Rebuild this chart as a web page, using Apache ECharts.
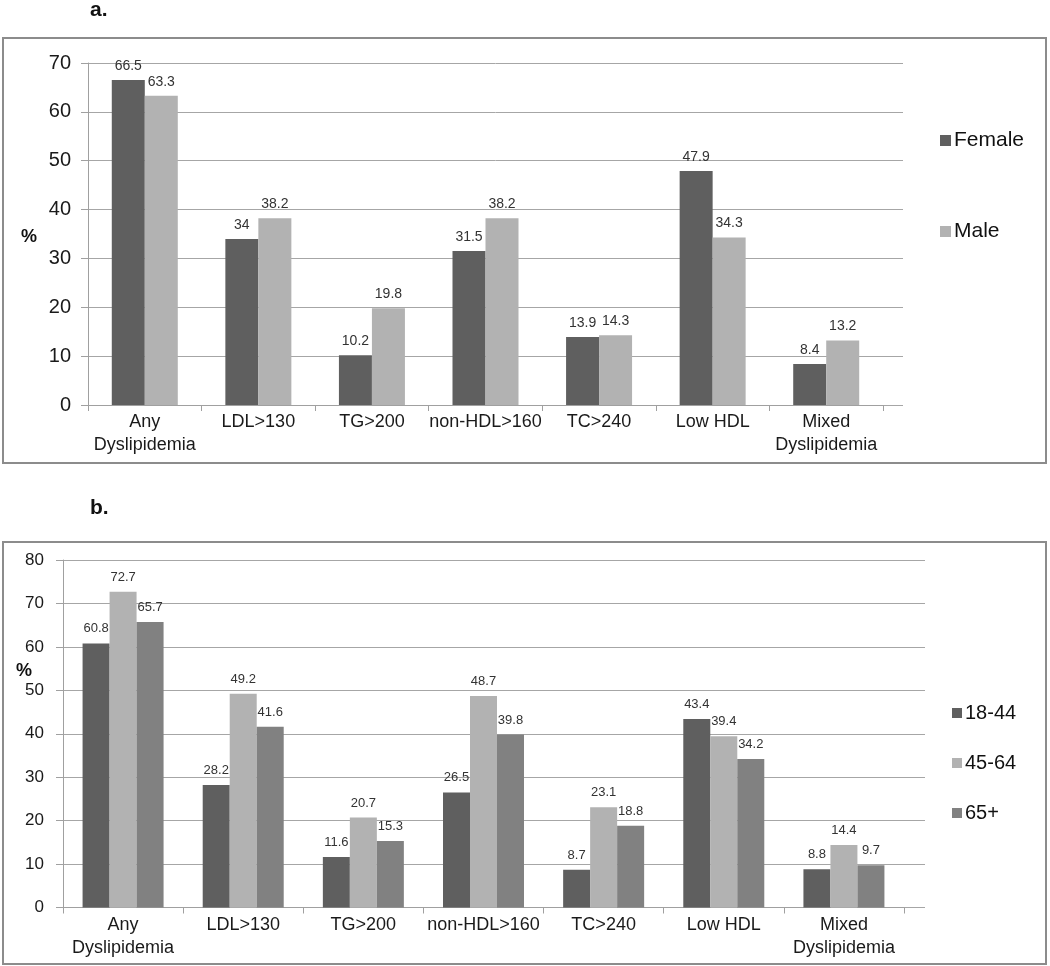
<!DOCTYPE html>
<html>
<head>
<meta charset="utf-8">
<script src="https://cdn.jsdelivr.net/npm/echarts@6/dist/echarts.min.js"></script>
<style>html,body{margin:0;padding:0;background:#fff}#c{width:1050px;height:966px}</style>
</head>
<body>
<div id="c"></div>
<script>
const categories = ['Any\nDyslipidemia', 'LDL>130', 'TG>200', 'non-HDL>160', 'TC>240', 'Low HDL', 'Mixed\nDyslipidemia'];
const female = [66.5, 34, 10.2, 31.5, 13.9, 47.9, 8.4];
const male = [63.3, 38.2, 19.8, 38.2, 14.3, 34.3, 13.2];
const age1844 = [60.8, 28.2, 11.6, 26.5, 8.7, 43.4, 8.8];
const age4564 = [72.7, 49.2, 20.7, 48.7, 23.1, 39.4, 14.4];
const age65 = [65.7, 41.6, 15.3, 39.8, 18.8, 34.2, 9.7];
const seriesNamesA = ['Female', 'Male'];
const seriesNamesB = ['18-44', '45-64', '65+'];

const FONT = "'Liberation Sans', Arial, sans-serif";
const DARK = '#5f5f5f', LIGHT = '#b2b2b2', MID = '#818181';
const chart = echarts.init(document.getElementById('c'), null, {renderer: 'canvas'});

function xAxis(gi) {
  return {
    type: 'category', gridIndex: gi, data: categories, boundaryGap: true,
    axisLine: {lineStyle: {color: '#a0a0a0', width: 1}},
    axisTick: {show: true, length: 6, lineStyle: {color: '#a0a0a0'}},
    axisLabel: {fontFamily: FONT, fontSize: 18, color: '#1a1a1a', lineHeight: 23, margin: 6, interval: 0}
  };
}
function hiddenX(gi) {
  return {type: 'value', gridIndex: gi, min: 0, max: 1, show: false};
}
function yAxis(gi, max, fs, margin) {
  return {
    type: 'value', gridIndex: gi, min: 0, max: max, interval: 10, z: 3,
    axisLine: {show: true, lineStyle: {color: '#a0a0a0', width: 1}},
    axisTick: {show: true, length: 7, lineStyle: {color: '#a0a0a0'}},
    splitLine: {show: false},
    axisLabel: {fontFamily: FONT, fontSize: fs, color: '#1a1a1a', margin: margin}
  };
}
function gridLines(gi, max) {
  return {
    type: 'value', gridIndex: gi, min: 0, max: max, interval: 10, z: 0,
    axisLine: {show: false}, axisTick: {show: false}, axisLabel: {show: false},
    splitLine: {show: true, lineStyle: {color: '#a6a6a6', width: 1}}
  };
}
function bar(name, data, color, xi, w, fs, dist) {
  return {
    type: 'bar', name: name, data: data, xAxisIndex: xi, yAxisIndex: xi,
    barWidth: w, barGap: '0%', itemStyle: {color: color}, z: 2,
    label: {show: true, position: 'top', distance: dist, fontFamily: FONT, fontSize: fs, color: '#333'},
    emphasis: {disabled: true}
  };
}

chart.setOption({
  animation: false,
  textStyle: {fontFamily: FONT},
  graphic: [
    {type: 'rect', shape: {x: 3, y: 38, width: 1043, height: 425}, style: {fill: 'none', stroke: '#8c8c8c', lineWidth: 2}},
    {type: 'rect', shape: {x: 3, y: 542, width: 1043, height: 422}, style: {fill: 'none', stroke: '#8c8c8c', lineWidth: 2}},
    {type: 'text', left: 90, top: 0, style: {text: 'a.', font: 'bold 21px ' + FONT, fill: '#111'}},
    {type: 'text', left: 90, top: 498, style: {text: 'b.', font: 'bold 21px ' + FONT, fill: '#111'}},
    {type: 'text', left: 21, top: 228, style: {text: '%', font: 'bold 18px ' + FONT, fill: '#111'}},
    {type: 'text', left: 16, top: 662, style: {text: '%', font: 'bold 18px ' + FONT, fill: '#111'}}
  ],
  grid: [
    {left: 88, right: 167, top: 63, bottom: 966 - 405},
    {left: 63, right: 146, top: 560, bottom: 966 - 907.5},
    {left: 88, right: 1050 - 903, top: 63, bottom: 966 - 405},
    {left: 63, right: 1050 - 925, top: 560, bottom: 966 - 907.5}
  ],
  legend: [
    {data: seriesNamesA, orient: 'vertical', left: 935, top: 125, itemWidth: 11, itemHeight: 11, itemGap: 70, icon: 'rect',
      textStyle: {fontFamily: FONT, fontSize: 21, color: '#111', padding: [0, 0, 0, -2]}},
    {data: seriesNamesB, orient: 'vertical', left: 947, top: 698, itemWidth: 10, itemHeight: 10, itemGap: 30, icon: 'rect',
      textStyle: {fontFamily: FONT, fontSize: 20, color: '#111', padding: [0, 0, 0, -2]}}
  ],
  xAxis: [xAxis(0), xAxis(1), hiddenX(2), hiddenX(3)],
  yAxis: [yAxis(0, 70, 20, 17), yAxis(1, 80, 17, 19), gridLines(2, 70), gridLines(3, 80)],
  series: [
    bar(seriesNamesA[0], female, DARK, 0, 33, 14, 7),
    bar(seriesNamesA[1], male, LIGHT, 0, 33, 14, 7),
    bar(seriesNamesB[0], age1844, DARK, 1, 27, 13, 8),
    bar(seriesNamesB[1], age4564, LIGHT, 1, 27, 13, 8),
    bar(seriesNamesB[2], age65, MID, 1, 27, 13, 8)
  ]
});
</script>
</body>
</html>
